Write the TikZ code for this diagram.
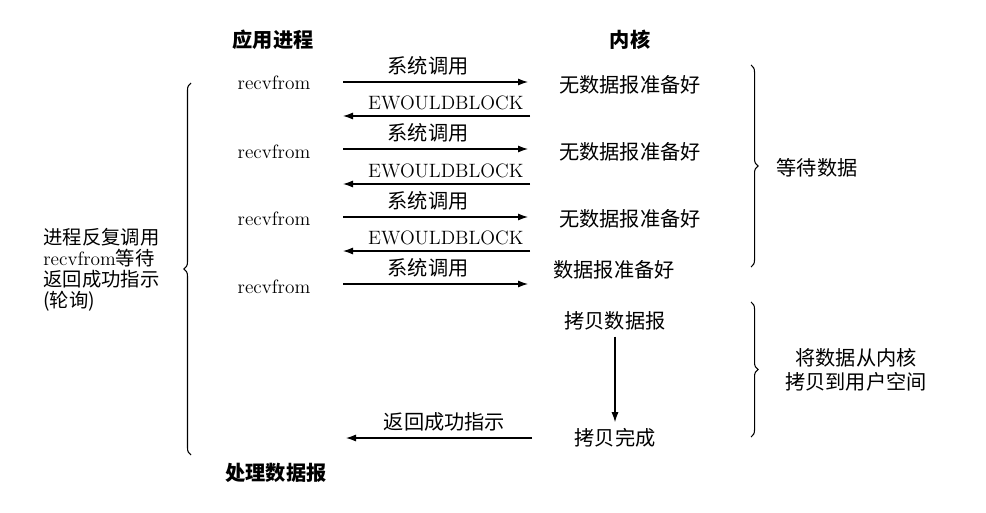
\documentclass[tikz,border=0pt]{standalone}
\usepackage{fontspec}
\newfontfamily\cjk{Noto Sans CJK SC}
\usetikzlibrary{arrows.meta,decorations.pathreplacing}

\begin{document}
\begin{tikzpicture}[x=0.02cm,y=-0.02cm,line width=0.6pt,>={Latex[length=2mm,width=1.4mm]},
  zh/.style={font=\cjk\fontsize{11.5}{14}\selectfont},
  zhb/.style={font=\cjk\bfseries\fontsize{11.5}{14}\selectfont},
  en/.style={font=\fontsize{11}{12}\selectfont},
  brc/.style={decorate,decoration={brace,amplitude=4pt}}]
  \useasboundingbox (0,0) rectangle (986,513);
  % cabeceras
  \node[zhb] (app) at (273,40) {应用进程};
  \node[zhb] (kern) at (630,40) {内核};
  % lado del proceso
  \node[en] (rv1) at (274,83) {recvfrom};
  \node[en] (rv2) at (274,152) {recvfrom};
  \node[en] (rv3) at (274,219) {recvfrom};
  \node[en] (rv4) at (274,287) {recvfrom};
  \node[zhb] (proc) at (276,473) {处理数据报};
  % lado del kernel
  \node[zh] (nd1) at (630,85) {无数据报准备好};
  \node[zh] (nd2) at (630,152) {无数据报准备好};
  \node[zh] (nd3) at (630,219) {无数据报准备好};
  \node[zh] (rdy) at (614,270) {数据报准备好};
  \node[zh] (cp) at (615,321) {拷贝数据报};
  \node[zh] (cpd) at (615,438) {拷贝完成};
  % extremos de las flechas
  \coordinate (a1) at (343,82);  \coordinate (k1) at (528,82);
  \coordinate (b1) at (343,116); \coordinate (j1) at (530,116);
  \coordinate (a2) at (343,149); \coordinate (k2) at (528,149);
  \coordinate (b2) at (343,184); \coordinate (j2) at (530,184);
  \coordinate (a3) at (343,217); \coordinate (k3) at (528,217);
  \coordinate (b3) at (343,251); \coordinate (j3) at (530,251);
  \coordinate (a4) at (343,284); \coordinate (k4) at (528,284);
  \coordinate (b4) at (346,438); \coordinate (j4) at (532,438);
  \draw[->] (a1)--(k1) node[pos=0.46,above,zh]{系统调用};
  \draw[->] (j1)--(b1) node[pos=0.45,above,en]{EWOULDBLOCK};
  \draw[->] (a2)--(k2) node[pos=0.46,above,zh]{系统调用};
  \draw[->] (j2)--(b2) node[pos=0.45,above,en]{EWOULDBLOCK};
  \draw[->] (a3)--(k3) node[pos=0.46,above,zh]{系统调用};
  \draw[->] (j3)--(b3) node[pos=0.45,above,en]{EWOULDBLOCK};
  \draw[->] (a4)--(k4) node[pos=0.46,above,zh]{系统调用};
  \draw[->] (j4)--(b4) node[pos=0.47,above,zh]{返回成功指示};
  \draw[->] (cp)--(cp |- cpd.north);
  % llaves
  \draw[brc] (191,455)--(191,83);
  \draw[brc] (751,65)--(751,267);
  \draw[brc] (751,302)--(751,437);
  \node[zh,anchor=west,align=left,font=\cjk\fontsize{11}{12}\selectfont] (poll) at (37,270)
    {进程反复调用\\{\rmfamily recvfrom}等待\\返回成功指示\\(轮询)};
  \node[zh] (wait) at (817,168) {等待数据};
  \node[zh,align=center] (copy) at (856,370) {将数据从内核\\拷贝到用户空间};
\end{tikzpicture}
\end{document}
